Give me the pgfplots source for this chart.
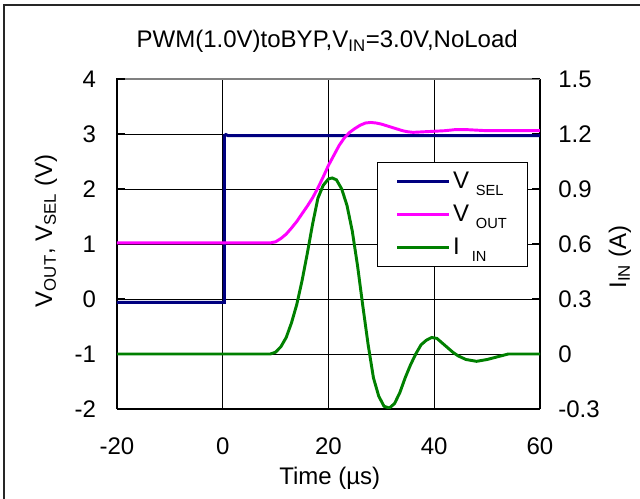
\documentclass[border=0pt]{standalone}
\usepackage{fontspec}
\setmainfont{Liberation Sans}
\usepackage{pgfplots}
\pgfplotsset{compat=1.18}
\definecolor{vsel}{RGB}{0,0,128}
\definecolor{vout}{RGB}{255,0,255}
\definecolor{iin}{RGB}{0,128,0}
\newcommand{\sub}[1]{\raisebox{-5pt}{\fontsize{11}{12}\selectfont #1}}
\begin{document}
\begin{tikzpicture}
\useasboundingbox (0,0) rectangle (480pt,374.25pt);
\draw[line width=0.9pt, black!85] (3pt,0) -- (3pt,370.5pt) -- (480pt,370.5pt);
\begin{axis}[
  at={(87.75pt,67.5pt)}, anchor=south west,
  scale only axis, width=317.25pt, height=247.5pt,
  xmin=-20, xmax=60, ymin=-2, ymax=4,
  xtick={-20,0,20,40,60}, xticklabels={-20,0,20,40,60},
  ytick={-2,-1,0,1,2,3,4}, yticklabels={-2,-1,0,1,2,3,4},
  ytick pos=left, xtick pos=bottom,
  tick align=inside, major tick length=6pt,
  grid=major, major grid style={black, line width=0.6pt},
  axis line style={black, line width=0.75pt},
  every tick/.style={black, line width=0.75pt},
  font=\fontsize{18}{21}\selectfont,
  xticklabel style={anchor=base, inner sep=0pt, yshift=-34.5pt},
  yticklabel style={anchor=east, inner sep=0pt, xshift=-15.5pt},
  title={PWM(1.0V)toBYP,V\textsubscript{IN}=3.0V,NoLoad},
  title style={at={(axis description cs:0.497,1)}, anchor=base, yshift=17.5pt, font=\fontsize{18}{21}\selectfont},
  xlabel={Time (µs)},
  xlabel style={at={(axis description cs:0.503,-0.209)}, anchor=center, font=\fontsize{18}{21}\selectfont},
  ylabel={V\textsubscript{OUT}, V\textsubscript{SEL} (V)},
  ylabel style={at={(axis description cs:-0.168,0.54)}, anchor=center, font=\fontsize{18}{21}\selectfont},
]
\addplot[vsel, line width=2.2pt] coordinates {
(-20,-0.06) (0.3,-0.06) (0.3,2.97) (0.6,2.99) (1.0,2.97) (60,2.97)};
\addplot[vout, line width=2.2pt] coordinates {
(-20,1.02) (9,1.02) (10,1.04) (11,1.10) (12,1.18) (13,1.29) (14,1.41) (15,1.55)
(16,1.69) (17,1.84) (18,2.02) (19,2.22) (20,2.43) (21,2.61) (22,2.79) (23,2.93)
(24,3.03) (25,3.10) (26,3.16) (27,3.20) (28,3.21) (29,3.20) (30,3.18) (31,3.15)
(32,3.12) (33,3.09) (34,3.06) (35,3.04) (36,3.03) (38,3.04) (40,3.05) (42,3.06)
(44,3.08) (46,3.08) (48,3.07) (50,3.06) (60,3.06)};
\draw[gray, line width=0.9pt] (rel axis cs:0.02,1) -- (rel axis cs:1,1);
\end{axis}
\begin{axis}[
  at={(87.75pt,67.5pt)}, anchor=south west,
  scale only axis, width=317.25pt, height=247.5pt,
  xmin=-20, xmax=60, ymin=-0.3, ymax=1.5,
  hide x axis, axis y line*=right,
  ytick={-0.3,0,0.3,0.6,0.9,1.2,1.5}, yticklabels={-0.3,0,0.3,0.6,0.9,1.2,1.5},
  tick align=inside, major tick length=6pt,
  axis line style={black, line width=0.75pt},
  every tick/.style={black, line width=0.75pt},
  font=\fontsize{18}{21}\selectfont,
  yticklabel style={anchor=west, inner sep=0pt, xshift=13.5pt},
  ylabel={I\textsubscript{IN} (A)},
  ylabel style={at={(axis description cs:1.189,0.46)}, anchor=center, font=\fontsize{18}{21}\selectfont},
  legend image code/.code={\draw[#1] (0pt,0pt) -- (39pt,0pt);},
  legend cell align=left,
  legend style={at={(axis description cs:0.615,0.748)}, anchor=north west,
    draw=black, line width=0.75pt, fill=white,
    inner xsep=13.5pt, inner ysep=5pt, row sep=7pt,
    font=\fontsize{18}{21}\selectfont,
    /tikz/every even column/.append style={column sep=2pt}},
]
\addlegendimage{vsel, line width=2.2pt}
\addlegendentry{V\hspace{5pt}\sub{SEL}}
\addlegendimage{vout, line width=2.2pt}
\addlegendentry{V\hspace{5pt}\sub{OUT}}
\addplot[iin, line width=2.2pt] coordinates {
(-20,0.0) (-10,0.0) (0,0.0) (9,0.0) (10,0.01) (11,0.04) (12,0.09) (13,0.17)
(14,0.27) (15,0.40) (16,0.55) (17,0.71) (18,0.85) (19,0.92) (20,0.955) (20.7,0.96)
(21.5,0.95) (22.5,0.90) (23.5,0.81) (24.5,0.67) (25.5,0.48) (26.5,0.26) (27.5,0.05)
(28.5,-0.13) (29.5,-0.23) (30.5,-0.285) (31.5,-0.295) (32.5,-0.27) (33.5,-0.21)
(34.5,-0.13) (35.5,-0.06) (36.5,0.0) (37.5,0.05) (38.5,0.075) (39.5,0.09) (40.5,0.085)
(41.5,0.06) (42.5,0.035) (43.5,0.01) (44.5,-0.01) (46,-0.03) (48,-0.04) (50,-0.03)
(52,-0.015) (54,0.0) (57,0.0) (60,0.0)};
\addlegendentry{I\hspace{9pt}\sub{IN}}
\end{axis}
\end{tikzpicture}
\end{document}
